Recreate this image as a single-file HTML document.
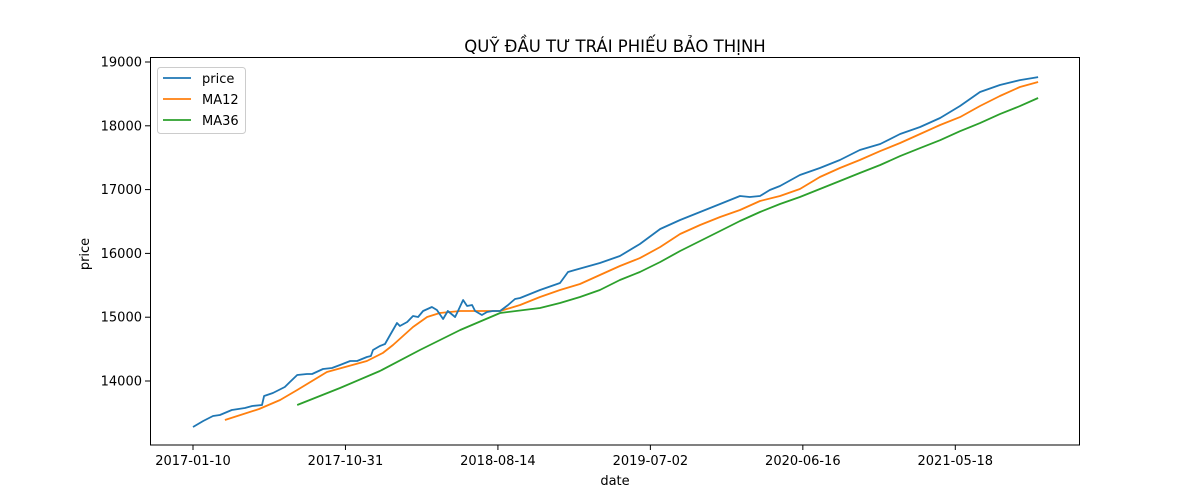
<!DOCTYPE html>
<html><head><meta charset="utf-8">
<style>
body{margin:0;background:#fff;}
svg{display:block;font-family:"DejaVu Sans","Liberation Sans",sans-serif;}
</style></head>
<body>
<svg id="chart" width="1200" height="500" viewBox="0 0 1200 500">
  <rect x="0" y="0" width="1200" height="500" fill="#fff"/>
  <text x="615" y="52" text-anchor="middle" font-size="16.5" fill="#000">QUỸ ĐẦU TƯ TRÁI PHIẾU BẢO THỊNH</text>
  <g id="plot"></g>
  <rect x="150.5" y="57.5" width="929" height="387.5" fill="none" stroke="#000" stroke-width="1"/>
  <text x="615" y="485" text-anchor="middle" font-size="13">date</text>
  <text transform="translate(89,254) rotate(-90)" text-anchor="middle" font-size="13">price</text>
  <g>
    <rect x="157.5" y="67.5" width="88" height="66" rx="3" fill="#fff" stroke="#ccc"/>
    <g><line x1="163" y1="78" x2="191" y2="78" stroke="#1f77b4" stroke-width="1.8"/><text x="202" y="83" font-size="13">price</text></g>
    <g><line x1="163" y1="99" x2="191" y2="99" stroke="#ff7f0e" stroke-width="1.8"/><text x="202" y="104" font-size="13">MA12</text></g>
    <g><line x1="163" y1="120" x2="191" y2="120" stroke="#2ca02c" stroke-width="1.8"/><text x="202" y="125" font-size="13">MA36</text></g>
  </g>
</svg>
<script>
const xTickLabels = ["2017-01-10","2017-10-31","2018-08-14","2019-07-02","2020-06-16","2021-05-18"];
const xTickWeeks = [0,42,84,126,168,210];
const yTickValues = [14000,15000,16000,17000,18000,19000];
const priceWeeks = [0,2.8,5.5,7.4,10.7,14.3,16.3,19,19.6,22,25.3,26.7,28.7,31.4,32.8,35.8,38.3,40.5,43.3,45.2,47.9,49,49.6,51.5,52.9,54.3,56.2,57,59,60.6,62,63.4,65.8,67.2,68.9,70.2,72.2,73,74.4,75.5,76.9,77.7,79.6,81,82.6,84.6,86.8,88.7,90.1,95.6,101.1,103.3,105.2,112.1,117.6,123.1,128.7,134.2,139.7,145.2,150.7,153.4,156.2,158.9,161.7,167.2,172.7,178.2,183.7,189.3,194.8,200.3,205.8,211.3,216.8,222.3,227.8,232.8];
const priceValues = [13279,13373,13451,13467,13545,13577,13608,13624,13765,13812,13906,13984,14094,14110,14110,14188,14204,14251,14313,14313,14376,14392,14486,14549,14580,14721,14909,14862,14925,15019,15003,15097,15160,15113,14972,15097,15003,15097,15269,15175,15191,15097,15034,15081,15097,15097,15191,15285,15301,15426,15536,15708,15740,15850,15959,16147,16382,16523,16649,16774,16899,16884,16899,16993,17056,17229,17338,17464,17620,17714,17871,17981,18122,18310,18529,18639,18717,18764];
const ma12Weeks = [8.8,18.2,24,28.7,36.9,47.9,52.3,55.1,60.6,64.5,68,73.6,84.6,90.1,95.6,101.1,106.6,112.1,117.6,123.1,128.7,134.2,139.7,145.2,150.7,156.2,161.7,167.2,172.7,178.2,183.7,189.3,194.8,200.3,205.8,211.3,216.8,222.3,227.8,232.8];
const ma12Values = [13389,13561,13702,13859,14141,14313,14439,14564,14846,15003,15066,15097,15097,15191,15316,15426,15520,15661,15802,15927,16100,16304,16445,16570,16680,16821,16899,17009,17197,17338,17464,17604,17730,17871,18012,18137,18310,18467,18608,18686];
const ma36Weeks = [28.7,40.5,51.5,62.5,73.6,84.6,95.6,101.1,106.6,112.1,117.6,123.1,128.7,134.2,139.7,145.2,150.7,156.2,161.7,167.2,172.7,178.2,183.7,189.3,194.8,200.3,205.8,211.3,216.8,222.3,227.8,232.8];
const ma36Values = [13624,13890,14157,14486,14799,15066,15144,15222,15316,15426,15583,15708,15865,16037,16194,16351,16508,16649,16774,16884,17009,17135,17260,17385,17525,17650,17775,17916,18043,18184,18309,18435];

const NS = "http://www.w3.org/2000/svg";
const xScale = w => 193 + w * 3.63;
const yScale = v => 444.8 - (v - 13000) * 0.0638;
const plot = document.getElementById("plot");
const svg = document.getElementById("chart");

function mk(tag, attrs, parent){
  const e = document.createElementNS(NS, tag);
  for (const k in attrs) e.setAttribute(k, attrs[k]);
  parent.appendChild(e);
  return e;
}

xTickWeeks.forEach((w, i) => {
  const x = xScale(w);
  const t = mk("line", {x1:x, y1:445, x2:x, y2:450, stroke:"#000"}, svg);
  
  
  const l = mk("text", {x:x, y:465, "text-anchor":"middle", "font-size":"13"}, svg);
  l.textContent = xTickLabels[i];
  
  
});
yTickValues.forEach(v => {
  const y = yScale(v);
  const t = mk("line", {x1:145, y1:y, x2:150, y2:y, stroke:"#000"}, svg);
  
  
  const l = mk("text", {x:142, y:y+4.5, "text-anchor":"end", "font-size":"13"}, svg);
  l.textContent = v;
  
  
});

function series(ws, vs, color, name){
  const d = ws.map((w, i) => (i ? "L" : "M") + xScale(w).toFixed(1) + "," + yScale(vs[i]).toFixed(1)).join(" ");
  const p = mk("path", {d:d, fill:"none", stroke:color, "stroke-width":"1.8", "stroke-linejoin":"round"}, plot);
  
  
}
series(ma36Weeks, ma36Values, "#2ca02c", "ma36-line");
series(ma12Weeks, ma12Values, "#ff7f0e", "ma12-line");
series(priceWeeks, priceValues, "#1f77b4", "price-line");
</script>
</body></html>
